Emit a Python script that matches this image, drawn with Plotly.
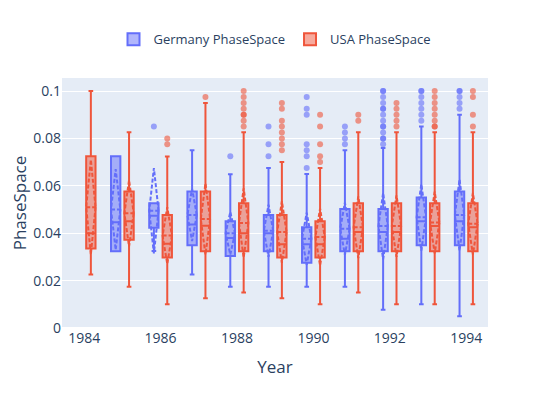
import plotly.graph_objects as go

# ---- data ----
de_years = [1985, 1986, 1987, 1988, 1989, 1990, 1991, 1992, 1993, 1994]
de_q1 = [0.0324, 0.0423, 0.0349, 0.0304, 0.0324, 0.0275, 0.0324, 0.0324, 0.0349, 0.0349]
de_median = [0.0446, 0.0474, 0.0437, 0.0380, 0.0400, 0.0353, 0.0377, 0.0405, 0.0450, 0.0450]
de_q3 = [0.0725, 0.0526, 0.0576, 0.0450, 0.0477, 0.0425, 0.0502, 0.0502, 0.0551, 0.0576]
de_lower = [0.0324, 0.0325, 0.0226, 0.0174, 0.0174, 0.0174, 0.0174, 0.0077, 0.0100, 0.0050]
de_upper = [0.0725, 0.0526, 0.0750, 0.0649, 0.0675, 0.0650, 0.0750, 0.0760, 0.0850, 0.0900]
de_mean = [0.0500, 0.0495, 0.0477, 0.0400, 0.0410, 0.0377, 0.0419, 0.0430, 0.0467, 0.0477]
de_sd = [0.0170, 0.0180, 0.0110, 0.0090, 0.0110, 0.0110, 0.0110, 0.0140, 0.0140, 0.0150]
de_outliers = [
    [],
    [0.085],
    [],
    [0.0725],
    [0.0725, 0.0775, 0.085],
    [0.0675, 0.0725, 0.075, 0.0775, 0.09, 0.0925, 0.0975],
    [0.0775, 0.08, 0.0825, 0.085],
    [0.0775, 0.08, 0.08, 0.0825, 0.085, 0.085, 0.0875, 0.09, 0.0925, 0.0925, 0.095, 0.0975, 0.1, 0.1],
    [0.0875, 0.09, 0.0925, 0.095, 0.0975, 0.1, 0.1],
    [0.0925, 0.095, 0.0975, 0.1, 0.1],
]

us_years = [1984, 1985, 1986, 1987, 1988, 1989, 1990, 1991, 1992, 1993, 1994]
us_q1 = [0.0335, 0.0372, 0.0297, 0.0324, 0.0324, 0.0297, 0.0297, 0.0324, 0.0324, 0.0324, 0.0324]
us_median = [0.0400, 0.0450, 0.0356, 0.0432, 0.0400, 0.0353, 0.0353, 0.0405, 0.0405, 0.0430, 0.0425]
us_q3 = [0.0725, 0.0576, 0.0477, 0.0576, 0.0526, 0.0477, 0.0450, 0.0526, 0.0526, 0.0526, 0.0526]
us_lower = [0.0226, 0.0174, 0.0100, 0.0126, 0.0150, 0.0126, 0.0100, 0.0150, 0.0100, 0.0100, 0.0100]
us_upper = [0.1000, 0.0826, 0.0724, 0.0949, 0.0826, 0.0700, 0.0675, 0.0826, 0.0826, 0.0826, 0.0826]
us_mean = [0.0510, 0.0484, 0.0390, 0.0460, 0.0443, 0.0405, 0.0384, 0.0425, 0.0430, 0.0445, 0.0440]
us_sd = [0.0200, 0.0140, 0.0120, 0.0150, 0.0146, 0.0130, 0.0120, 0.0130, 0.0130, 0.0130, 0.0130]
us_outliers = [
    [],
    [],
    [0.0775, 0.08],
    [0.0975],
    [0.085, 0.0875, 0.09, 0.09, 0.0925, 0.095, 0.0975, 0.1],
    [0.075, 0.0775, 0.08, 0.0825, 0.085, 0.0875, 0.0925, 0.095],
    [0.07, 0.0725, 0.0775, 0.085, 0.09],
    [0.0875, 0.09],
    [0.085, 0.0875, 0.09, 0.0925, 0.095],
    [0.085, 0.085, 0.0875, 0.09, 0.0925, 0.095, 0.0975, 0.1],
    [0.085, 0.09, 0.0975, 0.1],
]


def samples(median, outliers):
    # each box's sample list: its median plus the points beyond the fences
    return [[m] + list(o) for m, o in zip(median, outliers)]


fig = go.Figure()
fig.add_trace(go.Box(
    name="Germany PhaseSpace", x=de_years, y=samples(de_median, de_outliers),
    q1=de_q1, median=de_median, q3=de_q3,
    lowerfence=de_lower, upperfence=de_upper, mean=de_mean, sd=de_sd,
    boxmean="sd", boxpoints="outliers",
    marker=dict(color="#636efa", opacity=0.6, size=6),
    line=dict(color="#636efa"),
))
fig.add_trace(go.Box(
    name="USA PhaseSpace", x=us_years, y=samples(us_median, us_outliers),
    q1=us_q1, median=us_median, q3=us_q3,
    lowerfence=us_lower, upperfence=us_upper, mean=us_mean, sd=us_sd,
    boxmean="sd", boxpoints="outliers",
    marker=dict(color="#EF553B", opacity=0.6, size=6),
    line=dict(color="#EF553B"),
))

fig.update_layout(
    width=535, height=378,
    boxmode="group",
    font=dict(family="Open Sans, sans-serif", size=14, color="#2a3f5f"),
    margin=dict(l=54, r=55, t=70, b=58, autoexpand=False),
    legend=dict(orientation="h", x=0.5, xanchor="center", y=1.095, yanchor="bottom",
                font=dict(size=13), itemwidth=30),
    xaxis=dict(title=dict(text="Year", font=dict(size=17)), dtick=2,
               range=[1983.42, 1994.57], automargin=False),
    yaxis=dict(title=dict(text="PhaseSpace", font=dict(size=17), standoff=18),
               range=[0, 0.1055], dtick=0.02, automargin=False),
)

fig.write_html("out.html")
